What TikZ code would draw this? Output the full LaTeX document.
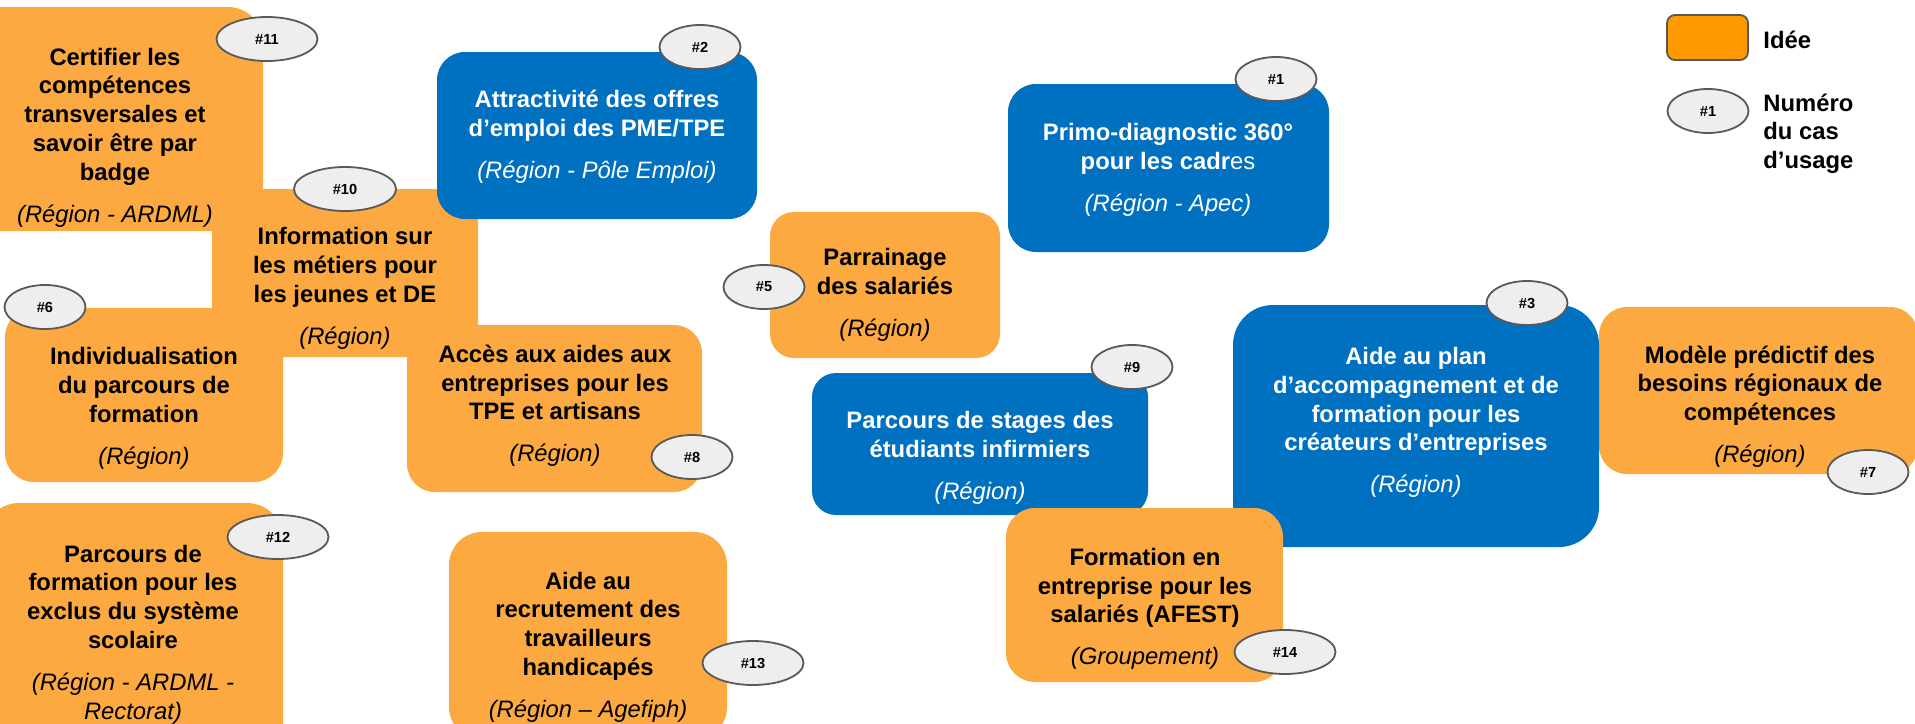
\documentclass[tikz,border=0pt]{standalone}
\usepackage{fontspec}
\setmainfont{Liberation Sans}
\usetikzlibrary{shapes}
\definecolor{ideaorange}{RGB}{251,169,64}
\definecolor{caseblue}{RGB}{0,112,192}
\definecolor{legendorange}{RGB}{255,153,0}
\definecolor{taggray}{RGB}{238,238,238}
\definecolor{tagedge}{RGB}{89,89,89}
\tikzset{boxtext/.style={align=center, inner sep=0pt, font=\fontsize{11.9}{14.35}\selectfont\bfseries}}
\tikzset{numtag/.style={ellipse, draw=tagedge, fill=taggray, line width=.9pt, minimum width=40.5pt, minimum height=22pt, inner sep=0pt, font=\fontsize{7.3}{8}\selectfont\bfseries}}
\newcommand{\porteur}[1]{{\mdseries\itshape #1}}

\begin{document}
\begin{tikzpicture}[x=0.5pt,y=-0.5pt]
  \useasboundingbox (0,0) rectangle (1915,723);
  \clip (0,0) rectangle (1915,723);
  \foreach \xa/\ya/\xb/\yb/\r/\col in {
    -33/7/263/231/35/ideaorange,
    212/189/478/357/28/ideaorange,
    5/308/283/482/29/ideaorange,
    407/325/702/492/28/ideaorange,
    -17/503/283/760/36/ideaorange,
    449/532/727/740/33/ideaorange,
    770/212/1000/358/24/ideaorange,
    1599/307/1918/474/28/ideaorange,
    437/52/757/219/28/caseblue,
    1008/84/1329/252/28/caseblue,
    812/373/1148/515/24/caseblue,
    1233/305/1599/547/40/caseblue,
    1006/508/1283/682/29/ideaorange%
  } {
    \pgfmathsetmacro{\rad}{\r/2}
    \fill[\col, rounded corners=\rad pt] (\xa,\ya) rectangle (\xb,\yb);
  }
  \node[boxtext] (certifier) at (115,137.5) {Certifier les\\compétences\\transversales et\\savoir être par\\badge\\[6.65pt]\porteur{(Région - ARDML)}};
  \node[boxtext] (information) at (345,288.5) {Information sur\\les métiers pour\\les jeunes et DE\\[6.65pt]\porteur{(Région)}};
  \node[boxtext] (individualisation) at (144,408.5) {Individualisation\\du parcours de\\formation\\[6.65pt]\porteur{(Région)}};
  \node[boxtext] (acces) at (555,406) {Accès aux aides aux\\entreprises pour les\\TPE et artisans\\[6.65pt]\porteur{(Région)}};
  \node[boxtext] (exclus) at (133,634.5) {Parcours de\\formation pour les\\exclus du système\\scolaire\\[6.65pt]\porteur{(Région - ARDML -}\\\porteur{Rectorat)}};
  \node[boxtext] (handicap) at (588,647) {Aide au\\recrutement des\\travailleurs\\handicapés\\[6.65pt]\porteur{(Région – Agefiph)}};
  \node[boxtext] (parrainage) at (885,294.5) {Parrainage\\des salariés\\[6.65pt]\porteur{(Région)}};
  \node[boxtext] (modele) at (1760,406.5) {Modèle prédictif des\\besoins régionaux de\\compétences\\[6.65pt]\porteur{(Région)}};
  \node[boxtext, text=white] (attractivite) at (597,136.5) {Attractivité des offres\\d’emploi des PME/TPE\\[6.65pt]\porteur{(Région - Pôle Emploi)}};
  \node[boxtext, text=white] (primo) at (1168,169.5) {Primo-diagnostic 360°\\pour les cadr\mdseries es\\[6.65pt]\porteur{(Région - Apec)}};
  \node[boxtext, text=white] (stages) at (980,457.5) {Parcours de stages des\\étudiants infirmiers\\[6.65pt]\porteur{(Région)}};
  \node[boxtext, text=white] (createurs) at (1416,422.5) {Aide au plan\\d’accompagnement et de\\formation pour les\\créateurs d’entreprises\\[6.65pt]\porteur{(Région)}};
  \node[boxtext] (afest) at (1145,609) {Formation en\\entreprise pour les\\salariés (AFEST)\\[6.65pt]\porteur{(Groupement)}};
  \foreach \x/\y/\num/\w in {
    267/39/11/50.5,
    345/189/10/51,
    45/307/6/40.5,
    700/47/2/40.5,
    764/287/5/40.5,
    1276/79/1/40.5,
    1527/303/3/40.5,
    1132/367/9/40.5,
    692/457/8/40.5,
    1868/472/7/40.5,
    1285/652/14/50.5,
    753/663/13/50.5,
    278/537/12/50.5%
  } {
    \node[numtag, minimum width=\w pt] (tag\num) at (\x,\y) {\#\num};
  }
  \fill[legendorange, draw=tagedge, line width=.9pt, rounded corners=4pt] (1667,15) rectangle (1748,60);
  \node[anchor=west, inner sep=0pt, font=\fontsize{11.9}{14.35}\selectfont\bfseries] (idee) at (1763,40) {Idée};
  \node[numtag] (legtag) at (1708,111) {\#1};
  \node[anchor=west, align=left, inner sep=0pt, font=\fontsize{11.9}{14.35}\selectfont\bfseries] (numero) at (1763,133.5) {Numéro\\du cas\\d’usage};
\end{tikzpicture}
\end{document}
